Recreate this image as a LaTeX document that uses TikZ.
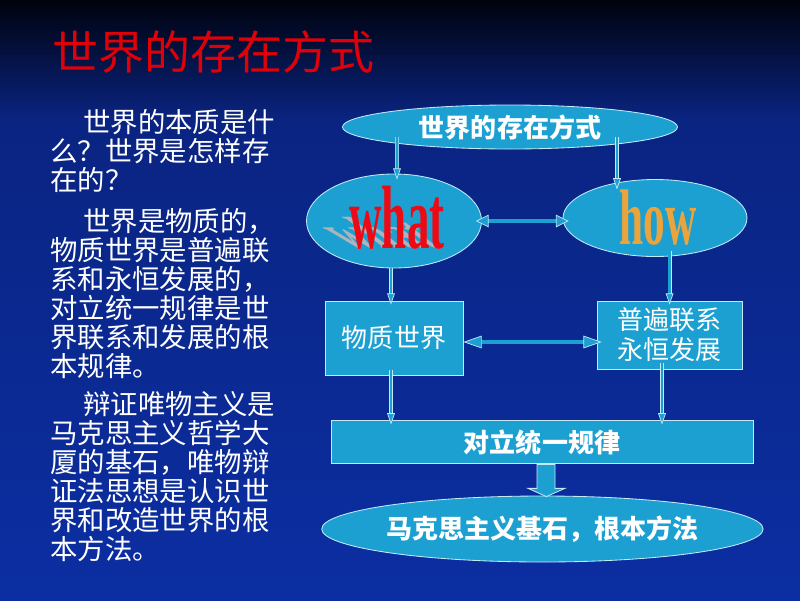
\documentclass[tikz,border=0pt]{standalone}
\usepackage{fontspec}
\usepackage{graphicx}
\setmainfont{Noto Sans CJK SC}
\newfontfamily\artfont{Liberation Serif}
\usetikzlibrary{arrows.meta}
\usetikzlibrary{calc}
\usetikzlibrary{shapes}

\begin{document}
\begin{tikzpicture}
        \definecolor{bg-top}{HTML}{00020C}
        \definecolor{bg-mid}{HTML}{0A2482}
        \definecolor{bg-bot}{HTML}{0B2EA2}
        \definecolor{boxfill}{HTML}{1CA0D2}
        \definecolor{edgecolor}{HTML}{C4EAF8}
        \definecolor{titlered}{HTML}{E00008}
        \definecolor{whatred}{HTML}{EE0A14}
        \definecolor{howgold}{HTML}{EBA43C}
        \definecolor{shadowgray}{HTML}{AEB4BC}
        \tikzstyle{every node}=[text=white,inner sep=0pt]
        \tikzstyle{oval}=[ellipse,fill=boxfill,draw=edgecolor,line width=0.6pt]
        \tikzstyle{box}=[rectangle,fill=boxfill,draw=edgecolor,line width=0.6pt]
        \tikzstyle{block}=[fill=boxfill,draw=edgecolor,line width=0.6pt,line join=miter]
        \tikzstyle{arr}=[draw=edgecolor,line width=0.5pt,double=boxfill,double distance=1.8pt,
            -{Triangle[length=8pt,width=5.5pt,line width=0.5pt,fill=boxfill]}]
        \tikzset{arrlr/.style={draw=edgecolor,line width=0.5pt,double=boxfill,double distance=2.4pt,
            {Triangle[length=#1,width=9pt,line width=0.5pt,fill=boxfill]}-{Triangle[length=#1,width=9pt,line width=0.5pt,fill=boxfill]}},
            arrlr/.default=9pt}
        \tikzstyle{sidetext}=[anchor=north west,align=left,font={\fontsize{19.5pt}{20.6pt}\selectfont}]
        \tikzstyle{label}=[font={\fontsize{18.5pt}{21.3pt}\selectfont}]
        \tikzstyle{labelb}=[font={\fontsize{18.5pt}{21.3pt}\selectfont\bfseries}]
        \tikzstyle{wordart}=[anchor=base,font={\artfont\bfseries\fontsize{64pt}{64pt}\selectfont}]

        % background
        \useasboundingbox (0,0) rectangle (20,-15);
        \shade [top color=bg-top, bottom color=bg-mid] (0,0) rectangle (20,-3);
        \shade [top color=bg-mid, bottom color=bg-bot] (0,-3) rectangle (20,-15);

        % title and left text
        \node [anchor=west, text=titlered, font={\fontsize{32.7pt}{36pt}\selectfont}] (t0) at (1.3,-1.3) {世界的存在方式};
        \node [sidetext] (p0) at (1.25,-2.725) {\hspace*{1.2em}世界的本质是什\\么？世界是怎样存\\在的？};
        \node [sidetext] (p1) at (1.25,-5.2) {\hspace*{1.2em}世界是物质的，\\物质世界是普遍联\\系和永恒发展的，\\对立统一规律是世\\界联系和发展的根\\本规律。};
        \node [sidetext] (p2) at (1.25,-9.775) {\hspace*{1.2em}辩证唯物主义是\\马克思主义哲学大\\厦的基石，唯物辩\\证法思想是认识世\\界和改造世界的根\\本方法。};

        % diagram
        \node [oval, labelb, minimum width=8.375cm, minimum height=1.1cm] (n0) at (12.75,-3.175) {世界的存在方式};
        \node [oval, minimum width=4.375cm, minimum height=2.35cm] (n1) at (9.85,-5.525) {};
        \node [oval, minimum width=4.6cm, minimum height=1.925cm] (n2) at (16.375,-5.45) {};
        \begin{scope}[shift={(9.925,-6.2)}, xslant=-1.3, yscale=0.5]
            \node [wordart, transform shape, text=shadowgray] (w0) at (0,0) {\scalebox{0.5}[1]{what}};
        \end{scope}
        \node [wordart, text=whatred] (w1) at (9.925,-6.2) {\scalebox{0.5}[1]{what}};
        \node [wordart, text=howgold, font={\artfont\bfseries\fontsize{56pt}{56pt}\selectfont}] (w2) at (16.46,-6.1) {\scalebox{0.55}[1]{how}};
        \node [box, label, minimum width=3.45cm, minimum height=1.85cm] (n3) at (9.85,-8.45) {物质世界};
        \node [box, label, align=center, minimum width=3.625cm, minimum height=1.7cm] (n4) at (16.74,-8.375) {普遍联系\\永恒发展};
        \node [box, labelb, minimum width=10.55cm, minimum height=1.075cm] (n5) at (13.55,-11.06) {对立统一规律};
        \node [oval, labelb, minimum width=10.875cm, minimum height=1.65cm] (n6) at (13.56,-13.225) {马克思主义基石，根本方法};

        \draw [arr] ($(n0.center)+(-2.825,-0.25)$) -- ($(n1.north)+(0.075,-0.15)$);
        \draw [arr] ($(n0.center)+(2.675,-0.25)$) -- ($(n2.north)+(-0.95,-0.26)$);
        \draw [arrlr] ($(n1.east)+(-0.15,0)$) -- ($(n1.east -| n2.west)+(0.15,0)$);
        \draw [arr] ($(n1.south)+(-0.075,0)$) -- ($(n3.north)+(-0.075,-0.1)$);
        \draw [arr] ($(n4.north |- n2.south)+(0,0.15)$) -- ($(n4.north)+(0,-0.1)$);
        \draw [arrlr=13pt] ($(n3.east)+(0,-0.1)$) -- ($(n3.east -| n4.west)+(0.125,-0.1)$);
        \draw [arr] ($(n3.south)+(-0.075,0.125)$) -- ($(n3.south |- n5.north)+(-0.075,-0.1)$);
        \draw [arr] ($(n4.south)+(-0.19,0.15)$) -- ($(n4.south |- n5.north)+(-0.19,-0.1)$);
        \draw [block] ($(n5.south)+(-0.125,0)$) -- ++(0,-0.6) -- ++(-0.225,0) -- ($(n6.north)+(0.1,-0.025)$)
            -- ($(n5.south)+(0.575,-0.6)$) -- ++(-0.25,0) -- ++(0,0.6) -- cycle;
    \end{tikzpicture}
\end{document}
